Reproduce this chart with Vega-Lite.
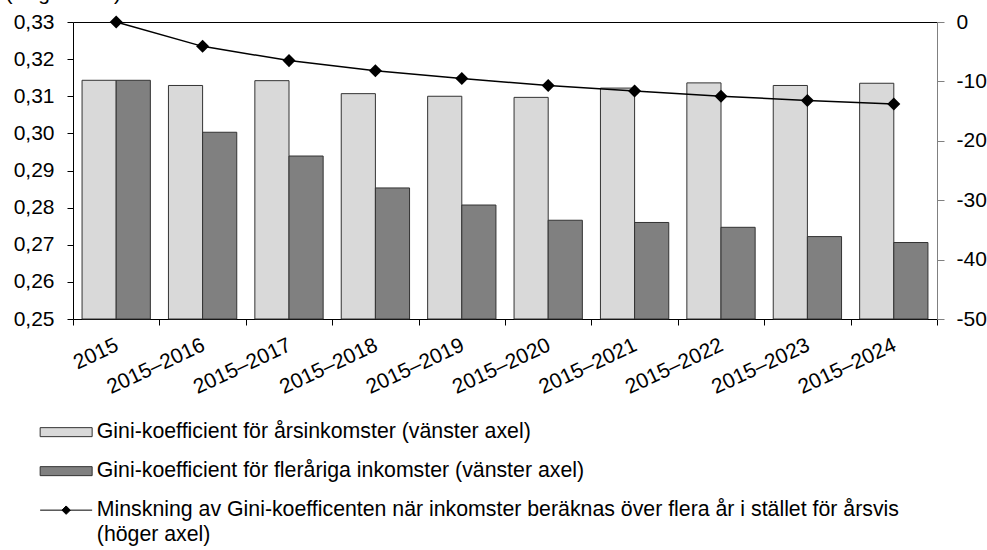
{
  "$schema": "https://vega.github.io/schema/vega-lite/v6.json",
  "width": 864,
  "height": 297,
  "autosize": {"type": "none"},
  "padding": {"left": 73, "top": 22, "right": 50, "bottom": 231},
  "background": "white",
  "config": {
    "font": "Liberation Sans",
    "view": {"stroke": null},
    "axis": {
      "labelFont": "Liberation Sans",
      "labelFontSize": 21,
      "labelColor": "black",
      "domainColor": "black",
      "tickColor": "black",
      "grid": false,
      "titleFont": "Liberation Sans",
      "titleFontWeight": "normal",
      "titleColor": "black"
    },
    "legend": {
      "labelFont": "Liberation Sans",
      "labelFontSize": 21.3,
      "labelColor": "black"
    }
  },
  "datasets": {
    "bars": [
      {"period": "2015", "serie": "Gini-koefficient för årsinkomster (vänster axel)", "gini": 0.3143},
      {"period": "2015", "serie": "Gini-koefficient för fleråriga inkomster (vänster axel)", "gini": 0.3143},
      {"period": "2015–2016", "serie": "Gini-koefficient för årsinkomster (vänster axel)", "gini": 0.3129},
      {"period": "2015–2016", "serie": "Gini-koefficient för fleråriga inkomster (vänster axel)", "gini": 0.3003},
      {"period": "2015–2017", "serie": "Gini-koefficient för årsinkomster (vänster axel)", "gini": 0.3142},
      {"period": "2015–2017", "serie": "Gini-koefficient för fleråriga inkomster (vänster axel)", "gini": 0.2939},
      {"period": "2015–2018", "serie": "Gini-koefficient för årsinkomster (vänster axel)", "gini": 0.3107},
      {"period": "2015–2018", "serie": "Gini-koefficient för fleråriga inkomster (vänster axel)", "gini": 0.2853},
      {"period": "2015–2019", "serie": "Gini-koefficient för årsinkomster (vänster axel)", "gini": 0.3100},
      {"period": "2015–2019", "serie": "Gini-koefficient för fleråriga inkomster (vänster axel)", "gini": 0.2807},
      {"period": "2015–2020", "serie": "Gini-koefficient för årsinkomster (vänster axel)", "gini": 0.3097},
      {"period": "2015–2020", "serie": "Gini-koefficient för fleråriga inkomster (vänster axel)", "gini": 0.2766},
      {"period": "2015–2021", "serie": "Gini-koefficient för årsinkomster (vänster axel)", "gini": 0.3122},
      {"period": "2015–2021", "serie": "Gini-koefficient för fleråriga inkomster (vänster axel)", "gini": 0.2760},
      {"period": "2015–2022", "serie": "Gini-koefficient för årsinkomster (vänster axel)", "gini": 0.3136},
      {"period": "2015–2022", "serie": "Gini-koefficient för fleråriga inkomster (vänster axel)", "gini": 0.2747},
      {"period": "2015–2023", "serie": "Gini-koefficient för årsinkomster (vänster axel)", "gini": 0.3129},
      {"period": "2015–2023", "serie": "Gini-koefficient för fleråriga inkomster (vänster axel)", "gini": 0.2722},
      {"period": "2015–2024", "serie": "Gini-koefficient för årsinkomster (vänster axel)", "gini": 0.3135},
      {"period": "2015–2024", "serie": "Gini-koefficient för fleråriga inkomster (vänster axel)", "gini": 0.2706}
    ],
    "line": [
      {"period": "2015", "minskning": 0},
      {"period": "2015–2016", "minskning": -4.1},
      {"period": "2015–2017", "minskning": -6.5},
      {"period": "2015–2018", "minskning": -8.2},
      {"period": "2015–2019", "minskning": -9.5},
      {"period": "2015–2020", "minskning": -10.7},
      {"period": "2015–2021", "minskning": -11.6},
      {"period": "2015–2022", "minskning": -12.5},
      {"period": "2015–2023", "minskning": -13.2},
      {"period": "2015–2024", "minskning": -13.8}
    ]
  },
  "layer": [
    {
      "data": {"name": "bars"},
      "mark": {"type": "bar", "stroke": "#333333", "strokeWidth": 1},
      "encoding": {
        "x": {
          "field": "period",
          "type": "nominal",
          "sort": null,
          "scale": {
            "domain": ["2015", "2015–2016", "2015–2017", "2015–2018", "2015–2019", "2015–2020", "2015–2021", "2015–2022", "2015–2023", "2015–2024"],
            "paddingInner": 0,
            "paddingOuter": 0
          },
          "axis": {
            "orient": "bottom",
            "title": null,
            "labelAngle": -25,
            "tickBand": "extent",
            "tickSize": 6,
            "labelPadding": 9,
            "labelOffset": -4
          }
        },
        "xOffset": {
          "field": "serie",
          "type": "nominal",
          "scale": {
            "domain": ["Gini-koefficient för årsinkomster (vänster axel)", "Gini-koefficient för fleråriga inkomster (vänster axel)"],
            "paddingInner": 0,
            "paddingOuter": 0.265
          }
        },
        "y": {
          "field": "gini",
          "type": "quantitative",
          "scale": {"domain": [0.25, 0.33], "zero": false, "nice": false},
          "axis": {
            "orient": "left",
            "values": [0.25, 0.26, 0.27, 0.28, 0.29, 0.30, 0.31, 0.32, 0.33],
            "labelExpr": "replace(format(datum.value, '.2f'), '.', ',')",
            "tickSize": 6,
            "labelPadding": 13,
            "title": "(Vägt värde)",
            "titleAngle": 0,
            "titleAlign": "left",
            "titleBaseline": "alphabetic",
            "titleX": -68,
            "titleY": -23,
            "titleFontSize": 21
          }
        },
        "y2": {"datum": 0.25},
        "fill": {
          "field": "serie",
          "type": "nominal",
          "scale": {
            "domain": [
              "Gini-koefficient för årsinkomster (vänster axel)",
              "Gini-koefficient för fleråriga inkomster (vänster axel)",
              "Minskning av Gini-koefficenten när inkomster beräknas över flera år i stället för årsvis (höger axel)"
            ],
            "range": ["#d9d9d9", "#808080", "#000000"]
          },
          "legend": {
            "title": null,
            "orient": "none",
            "legendX": -17.5,
            "legendY": 399.5,
            "direction": "vertical",
            "padding": 0,
            "symbolSize": 400,
            "symbolStrokeColor": "#333333",
            "symbolStrokeWidth": 1,
            "rowPadding": 17,
            "labelOffset": 20,
            "labelLimit": 1000,
            "labelBaseline": "middle",
            "labelExpr": "indexof(datum.label, 'Minskning') == 0 ? ['Minskning av Gini-koefficenten när inkomster beräknas över flera år i stället för årsvis', '(höger axel)'] : datum.label",
            "encode": {
              "symbols": {
                "update": {
                  "shape": {"signal": "indexof(datum.value, 'Minskning') == 0 ? 'M-2.6,0H2.6M0,-0.42L0.42,0L0,0.42L-0.42,0Z' : 'M-2.6,-0.45H2.6V0.45H-2.6Z'"},
                  "stroke": {"signal": "indexof(datum.value, 'Minskning') == 0 ? '#000000' : '#333333'"},
                  "strokeWidth": {"value": 1},
                  "opacity": {"value": 1}
                }
              },
              "labels": {
                "update": {
                  "lineHeight": {"value": 25}
                }
              }
            }
          }
        }
      }
    },
    {
      "data": {"name": "line"},
      "encoding": {
        "x": {
          "field": "period",
          "type": "nominal",
          "sort": null,
          "axis": {
            "orient": "top",
            "title": null,
            "labels": false,
            "ticks": false,
            "domainColor": "black"
          }
        },
        "y": {
          "field": "minskning",
          "type": "quantitative",
          "scale": {"domain": [-50, 0], "nice": false},
          "axis": {
            "orient": "right",
            "title": null,
            "values": [-50, -40, -30, -20, -10, 0],
            "labelExpr": "datum.value + ''",
            "domainColor": "#808080",
            "tickColor": "#808080",
            "tickSize": 7,
            "labelPadding": 12
          }
        }
      },
      "layer": [
        {"mark": {"type": "line", "color": "black", "strokeWidth": 1.5}},
        {"mark": {"type": "point", "shape": "diamond", "filled": true, "size": 170, "opacity": 1, "color": "black"}}
      ]
    }
  ],
  "resolve": {"scale": {"y": "independent"}, "axis": {"x": "independent"}}
}
